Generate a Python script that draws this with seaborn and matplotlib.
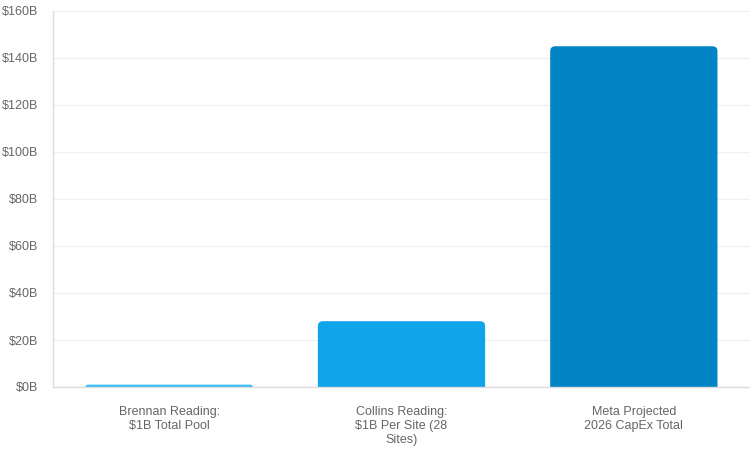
import pandas as pd
import seaborn as sns
import matplotlib.pyplot as plt
from matplotlib.patches import FancyBboxPatch

# --- dados ---
categories = ["Brennan Reading:\n$1B Total Pool",
              "Collins Reading:\n$1B Per Site (28\nSites)",
              "Meta Projected\n2026 CapEx Total"]
values = [1, 28, 145]
colors = ["#38bdf8", "#0ea5e9", "#0284c7"]

df = pd.DataFrame({"cat": categories, "val": values})

sns.set_style("white")
plt.rcParams['font.family'] = ['Liberation Sans', 'DejaVu Sans']

fig = plt.figure(figsize=(7.5, 4.5), dpi=100)
ax = fig.add_axes([53 / 750, 63 / 450, 697 / 750, 376 / 450])

sns.barplot(data=df, x="cat", y="val", hue="cat", palette=colors,
            width=0.72, legend=False, ax=ax)

ax.set_ylim(0, 160)
ax.set_xlim(-0.5, 2.5)

# cantos arredondados só no topo: caixa estendida abaixo de zero (cortada pelo eixo)
px_x = 3 / 697
px_y = 160 / 376
r = 5 * px_x
for p, c in zip(list(ax.patches), colors):
    x, w, h = p.get_x(), p.get_width(), p.get_height()
    p.remove()
    rr = min(r, h / px_y * px_x)
    ax.add_patch(FancyBboxPatch((x, -h), w, 2 * h,
                                boxstyle=f"round,pad=0,rounding_size={rr}",
                                mutation_aspect=px_y / px_x,
                                facecolor=c, edgecolor="none", zorder=2))

ax.set_yticks(range(0, 161, 20))
ax.set_yticklabels([f"${v}B" for v in range(0, 161, 20)])
ax.yaxis.grid(True, color="#f0f0f0", linewidth=1, zorder=0)
ax.set_axisbelow(True)

ax.set_xlabel("")
ax.set_ylabel("")
ax.tick_params(axis="both", labelcolor="#666666", labelsize=9)
ax.tick_params(axis="x", pad=14, length=0)
ax.tick_params(axis="y", pad=3, length=7.5, width=1, color="#eeeeee")
for lab in ax.get_xticklabels():
    lab.set_linespacing(1.2)

for s in ["top", "right"]:
    ax.spines[s].set_visible(False)
for s in ["left", "bottom"]:
    ax.spines[s].set_color("#dddddd")
    ax.spines[s].set_linewidth(1)

plt.savefig("out.png", dpi=100)
